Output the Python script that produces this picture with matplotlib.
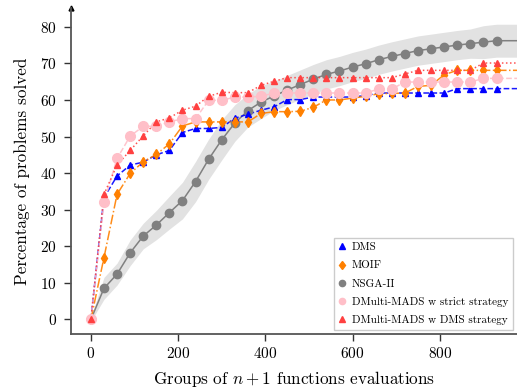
import matplotlib.pyplot as plt
from matplotlib.lines import Line2D
import numpy as np

plt.rcParams['font.family'] = 'serif'
plt.rcParams['font.serif'] = ['cmr10']
plt.rcParams['mathtext.fontset'] = 'cm'
plt.rcParams['axes.formatter.use_mathtext'] = True

# groups of n+1 evaluations (marker every 30 groups)
groups = list(range(0, 931, 30))
x_end = 1000  # curves run on to the right edge

dms = [0, 33.3, 39.2, 42.2, 43.0, 45.0, 46.2, 51.1, 52.2, 52.2, 52.5, 55.0,
       56.1, 57.2, 58.1, 60.1, 60.1, 60.8, 60.8, 60.8, 60.8, 61.2, 61.9, 61.9,
       61.9, 61.9, 61.9, 61.9, 63.1, 63.1, 63.1, 63.1]
moif = [0, 16.9, 34.2, 39.9, 43.1, 45.1, 48.0, 52.9, 54.0, 54.0, 54.0, 54.0,
        54.0, 56.3, 56.8, 56.8, 56.9, 58.0, 60.0, 60.0, 60.5, 61.0, 61.7, 61.8,
        61.9, 63.7, 64.0, 66.9, 68.1, 68.1, 68.1, 68.1]
nsga = [0, 8.5, 12.4, 18.2, 22.8, 25.8, 29.2, 32.5, 37.7, 43.8, 49.1, 53.7,
        57.1, 59.4, 61.1, 62.7, 64.2, 65.7, 67.0, 67.9, 69.0, 69.9, 71.0, 71.9,
        72.7, 73.5, 74.0, 74.5, 75.0, 75.4, 75.8, 76.2]
nsga_spread = [0.5, 3, 3, 3.5, 3.5, 4, 4.5, 5, 5.5, 5.5, 5.5, 5, 4.5, 4.5, 4, 4,
               4, 4, 4, 4, 4, 4, 4, 4, 4, 4, 4, 4, 4, 4, 4.5, 4.5]
strict = [0, 32.0, 44.0, 50.1, 52.8, 52.8, 54.0, 54.9, 54.9, 59.9, 59.9, 60.8,
          60.8, 61.0, 61.9, 61.9, 61.9, 61.9, 61.9, 61.9, 61.9, 61.9, 63.0, 63.0,
          64.9, 64.9, 64.9, 64.9, 64.9, 64.9, 65.9, 65.9]
dmsstrat = [0, 34.2, 42.2, 46.2, 50.2, 54.0, 55.1, 57.2, 58.3, 61.0, 62.1, 62.0,
            62.0, 64.0, 65.1, 66.1, 66.1, 66.1, 66.1, 66.1, 66.1, 66.1, 66.1, 66.1,
            67.1, 68.1, 68.1, 68.1, 68.1, 68.1, 70.1, 70.1]

names = ['DMS', 'MOIF', 'NSGA-II', 'DMulti-MADS w strict strategy',
         'DMulti-MADS w DMS strategy']
series = [dms, moif, nsga, strict, dmsstrat]
colors = ['#0000ff', '#ff8000', '#808080', '#ffbfc8', '#ff4040']
markers = ['^', 'd', 'o', 'o', '^']
msizes = [5, 5, 6, 7, 5]
lstyles = ['--', '-.', '-', '--', ':']

fig = plt.figure(figsize=(5.17, 3.88), dpi=100)
ax = fig.add_axes([0.137, 0.139, 0.863, 0.84])

xs = np.array(groups + [x_end])
mean = np.array(nsga + [nsga[-1]])
sp = np.array(nsga_spread + [nsga_spread[-1]])
ax.fill_between(xs, mean - sp, mean + sp, color='#e2e2e2', lw=0, zorder=1)

order = [2, 0, 1, 3, 4]
for i in order:
    ys = series[i] + [series[i][-1]]
    ax.plot(xs, ys, color=colors[i], ls=lstyles[i], lw=1.1,
            alpha=0.9 if i != 2 else 1.0, zorder=2)
    ax.plot(groups, series[i], ls='none', marker=markers[i], ms=msizes[i],
            color=colors[i], mec=colors[i], zorder=3)

handles = [Line2D([], [], ls='none', marker=markers[i], color=colors[i],
                  ms=4.5) for i in range(5)]
leg = ax.legend(handles, names, loc='lower right', fontsize=8, fancybox=False,
                framealpha=1, edgecolor='#cccccc', handlelength=0.6,
                handletextpad=0.6, borderaxespad=0.4, labelspacing=0.75)

ax.set_xlim(-46, 977)
ax.set_ylim(-4, 85.1)
ax.set_xticks([0, 200, 400, 600, 800])
ax.set_yticks(range(0, 81, 10))
ax.tick_params(direction='out', length=5, width=1, labelsize=11, colors='#333333')
ax.tick_params(axis='y', pad=5)
for lab in ax.get_xticklabels() + ax.get_yticklabels():
    lab.set_color('black')
for s in ['top', 'right']:
    ax.spines[s].set_visible(False)
for s in ['left', 'bottom']:
    ax.spines[s].set_color('#555555')
    ax.spines[s].set_linewidth(1.3)
ax.plot(0, 1, marker='^', color='black', ms=3.5, transform=ax.transAxes,
        clip_on=False)

ax.set_xlabel('Groups of $n+1$ functions evaluations', fontsize=12.3, labelpad=6)
ax.set_ylabel('Percentage of problems solved', fontsize=12.3, labelpad=7)

fig.savefig('out.png', dpi=100)
